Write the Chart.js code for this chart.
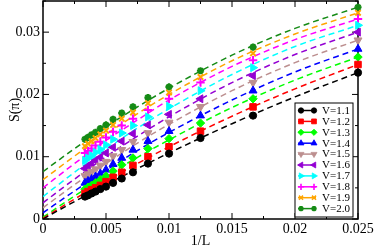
<!DOCTYPE html>
<html><head><meta charset="utf-8">
<script src="https://cdn.jsdelivr.net/npm/chart.js@4/dist/chart.umd.min.js"></script>
<style>html,body{margin:0;padding:0;background:#fff;}#wrap{width:374px;height:248px;}</style>
</head><body><div id="wrap"><canvas id="c" width="374" height="248"></canvas></div>
<script>
// ---- data ----
const invL = [0.00333,0.00357,0.00385,0.00417,0.00455,0.005,0.00556,0.00625,0.00714,0.00833,0.01,0.0125,0.01667,0.025];
const seriesLabels = ['V=1.1','V=1.2','V=1.3','V=1.4','V=1.5','V=1.6','V=1.7','V=1.8','V=1.9','V=2.0'];
const S_V11 = [0.0036,0.0038,0.0041,0.0044,0.0048,0.0052,0.0058,0.0065,0.0075,0.0089,0.0105,0.0130,0.0166,0.0235];
const S_V12 = [0.0041,0.0044,0.0047,0.0050,0.0054,0.0060,0.0067,0.0075,0.0086,0.0100,0.0116,0.0141,0.0180,0.0248];
const S_V13 = [0.0048,0.0051,0.0054,0.0058,0.0063,0.0069,0.0077,0.0087,0.0098,0.0113,0.0129,0.0154,0.0193,0.0260];
const S_V14 = [0.0058,0.0061,0.0064,0.0068,0.0073,0.0079,0.0088,0.0098,0.0111,0.0125,0.0141,0.0166,0.0206,0.0273];
const S_V15 = [0.0069,0.0072,0.0076,0.0080,0.0086,0.0092,0.0101,0.0111,0.0124,0.0138,0.0155,0.0180,0.0219,0.0287];
const S_V16 = [0.0081,0.0085,0.0089,0.0094,0.0099,0.0106,0.0115,0.0125,0.0137,0.0151,0.0168,0.0193,0.0230,0.0300];
const S_V17 = [0.0094,0.0098,0.0102,0.0107,0.0112,0.0119,0.0128,0.0138,0.0150,0.0164,0.0181,0.0206,0.0243,0.0311];
const S_V18 = [0.0106,0.0109,0.0113,0.0118,0.0124,0.0131,0.0140,0.0150,0.0161,0.0175,0.0193,0.0219,0.0255,0.0321];
const S_V19 = [0.0117,0.0121,0.0125,0.0130,0.0136,0.0142,0.0151,0.0161,0.0171,0.0186,0.0203,0.0228,0.0266,0.0331];
const S_V20 = [0.0128,0.0131,0.0135,0.0139,0.0145,0.0151,0.0160,0.0170,0.0180,0.0195,0.0212,0.0238,0.0276,0.0340];

const fitX = [0,0.0025,0.005,0.0075,0.01,0.015,0.02,0.025];
const fit_V11 = [0.0000,0.0028,0.0055,0.0081,0.0106,0.0153,0.0196,0.0235];
const fit_V12 = [0.0001,0.0032,0.0061,0.0089,0.0116,0.0165,0.0209,0.0248];
const fit_V13 = [0.0003,0.0037,0.0069,0.0099,0.0127,0.0179,0.0223,0.0260];
const fit_V14 = [0.0010,0.0045,0.0078,0.0110,0.0139,0.0191,0.0236,0.0273];
const fit_V15 = [0.0018,0.0055,0.0089,0.0122,0.0152,0.0206,0.0251,0.0287];
const fit_V16 = [0.0026,0.0064,0.0100,0.0133,0.0164,0.0219,0.0264,0.0300];
const fit_V17 = [0.0036,0.0075,0.0112,0.0146,0.0177,0.0232,0.0277,0.0311];
const fit_V18 = [0.0050,0.0089,0.0126,0.0159,0.0191,0.0245,0.0288,0.0321];
const fit_V19 = [0.0063,0.0101,0.0136,0.0169,0.0200,0.0254,0.0297,0.0331];
const fit_V20 = [0.0076,0.0113,0.0148,0.0180,0.0210,0.0263,0.0306,0.0340];

const xTicks = [0,0.005,0.01,0.015,0.02,0.025];
const xTickLabels = ['0','0.005','0.01','0.015','0.02','0.025'];
const yTicks = [0,0.01,0.02,0.03];
const yTickLabels = ['0','0.01','0.02','0.03'];

// ---- styles ----
const pointSeries = [S_V11,S_V12,S_V13,S_V14,S_V15,S_V16,S_V17,S_V18,S_V19,S_V20];
const fitSeries = [fit_V11,fit_V12,fit_V13,fit_V14,fit_V15,fit_V16,fit_V17,fit_V18,fit_V19,fit_V20];
const colors = ['#000000','#ff0000','#00ff00','#0000ff','#bc8f8f','#9400d3','#00ffff','#ff00ff','#ffa500','#158b15'];
const pStyles = ['circle','rect','rectRot','triangle','triangle','triangle','triangle','cross','crossRot','star'];
const pRot = [0,0,0,0,180,270,90,0,0,0];
const pRad = [3.6,4.6,4.2,4.6,4.6,4.6,4.6,4.2,3.8,3.6];
const pBW = [1,1,1,1,1,1,1,2,2,2.2];
const SERIF = '"Liberation Serif", "Times New Roman", serif';

const datasets = [];
pointSeries.forEach((arr, k) => {
  datasets.push({
    label: seriesLabels[k],
    data: invL.map((x, i) => ({x, y: arr[i]})),
    showLine: false, clip: false,
    pointStyle: pStyles[k], rotation: pRot[k], pointRadius: pRad[k],
    pointBackgroundColor: colors[k], pointBorderColor: colors[k], pointBorderWidth: pBW[k],
    pointHoverRadius: pRad[k]
  });
});
fitSeries.forEach((arr, k) => {
  datasets.push({
    label: 'fit ' + seriesLabels[k],
    data: fitX.map((x, i) => ({x, y: arr[i]})),
    showLine: true, pointRadius: 0, borderColor: colors[k], borderWidth: 1.5,
    borderDash: [6, 4], cubicInterpolationMode: 'monotone', fill: false
  });
});

const line = (ctx, x1, y1, x2, y2) => { ctx.beginPath(); ctx.moveTo(x1, y1); ctx.lineTo(x2, y2); ctx.stroke(); };

const framePlugin = {
  id: 'frame',
  beforeDatasetsDraw(chart) {
    const {ctx, chartArea: a, scales: {x, y}} = chart;
    ctx.save();
    ctx.strokeStyle = '#000';
    ctx.lineWidth = 1;
    for (let i = 0; i <= 10; i++) {
      const px = x.getPixelForValue(i * 0.0025);
      const len = i % 2 === 0 ? 6 : 3;
      line(ctx, px, a.bottom, px, a.bottom - len);
      line(ctx, px, a.top, px, a.top + len);
    }
    for (let i = 0; i <= 7; i++) {
      const py = y.getPixelForValue(i * 0.005);
      const len = i % 2 === 0 ? 6 : 3;
      line(ctx, a.left, py, a.left + len, py);
      line(ctx, a.right, py, a.right - len, py);
    }
    ctx.lineWidth = 1.5;
    ctx.strokeRect(a.left, a.top, a.right - a.left, a.bottom - a.top);
    ctx.restore();
  }
};

const legendPlugin = {
  id: 'boxLegend',
  afterDraw(chart) {
    const {ctx, chartArea: a} = chart;
    const right = a.right - 5, bottom = a.bottom - 2;
    const left = right - 58, top = bottom - 114;
    ctx.save();
    ctx.fillStyle = '#fff';
    ctx.fillRect(left, top, right - left, bottom - top);
    ctx.strokeStyle = '#000'; ctx.lineWidth = 1;
    ctx.strokeRect(left, top, right - left, bottom - top);
    ctx.font = '11px ' + SERIF;
    ctx.textBaseline = 'middle';
    for (let k = 0; k < seriesLabels.length; k++) {
      const cy = top + 7.5 + k * 10.9;
      ctx.strokeStyle = colors[k]; ctx.fillStyle = colors[k]; ctx.lineWidth = 1.5;
      line(ctx, left + 3, cy, left + 21, cy);
      const opt = {pointStyle: pStyles[k], rotation: pRot[k], radius: pRad[k] * 0.75, borderWidth: pBW[k]};
      ctx.lineWidth = pBW[k] * 0.8;
      Chart.helpers.drawPoint(ctx, opt, left + 6, cy);
      Chart.helpers.drawPoint(ctx, opt, left + 19, cy);
      ctx.fillStyle = '#000';
      ctx.fillText(seriesLabels[k], left + 27, cy + 0.5);
    }
    ctx.restore();
  }
};

new Chart(document.getElementById('c'), {
  type: 'scatter',
  data: {datasets},
  options: {
    responsive: false, animation: false, devicePixelRatio: 1,
    layout: {autoPadding: false, padding: {top: 1, right: 16, bottom: 0, left: 0}},
    plugins: {legend: {display: false}, tooltip: {enabled: false}},
    scales: {
      x: {
        type: 'linear', min: 0, max: 0.025,
        afterBuildTicks: s => { s.ticks = xTicks.map(v => ({value: v})); },
        afterFit: s => { s.height = 29; s.paddingLeft = 0; s.paddingRight = 0; },
        grid: {display: false, drawTicks: false}, border: {display: false},
        ticks: {padding: 2, color: '#000', font: {family: SERIF, size: 14}, maxRotation: 0, autoSkip: false,
          callback: (v, i) => xTickLabels[i]},
        title: {display: true, text: '1/L', color: '#000', font: {family: SERIF, size: 14, lineHeight: 1}, padding: {top: 0, bottom: 0}}
      },
      y: {
        type: 'linear', min: 0, max: 0.035,
        afterBuildTicks: s => { s.ticks = yTicks.map(v => ({value: v})); },
        afterFit: s => { s.width = 43; s.paddingTop = 0; s.paddingBottom = 0; },
        grid: {display: false, drawTicks: false}, border: {display: false},
        ticks: {padding: 3, color: '#000', font: {family: SERIF, size: 14}, autoSkip: false,
          callback: (v, i) => yTickLabels[i]},
        title: {display: true, text: 'S(π)', color: '#000', font: {family: SERIF, size: 14, lineHeight: 1}, padding: {top: 8, bottom: 0}}
      }
    }
  },
  plugins: [framePlugin, legendPlugin]
});
</script></body></html>
